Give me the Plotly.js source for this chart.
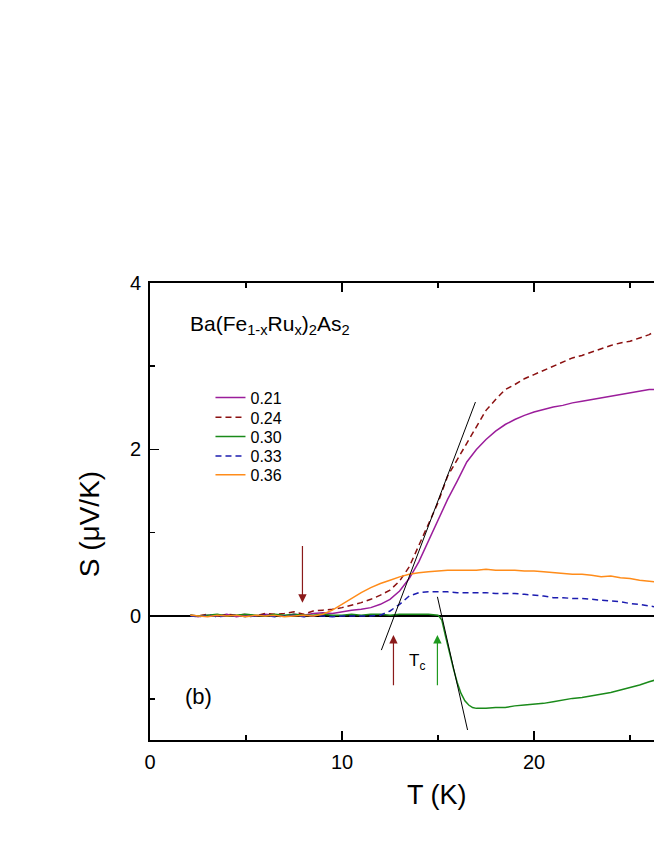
<!DOCTYPE html>
<html>
<head>
<meta charset="utf-8">
<script src="https://cdn.plot.ly/plotly-3.0.1.min.js"></script>
<style>
  html, body { margin: 0; padding: 0; background: #fff; overflow: hidden; }
</style>
</head>
<body>
<div id="chart"></div>
<script>
// temperature grid (K)
var tGrid = [2.1, 2.5, 3, 3.5, 4, 4.5, 5, 5.5, 6, 6.5, 7, 7.5, 8, 8.5, 9, 9.5, 10, 10.5, 11, 11.5,
    12, 12.5, 13, 13.5, 14, 14.5, 15, 15.5, 16, 16.5, 17, 17.5, 18, 18.5, 19, 19.5, 20, 20.5, 21, 21.5,
    22, 22.5, 23, 23.5, 24, 24.5, 25, 25.5, 26, 26.3];

// S (uV/K) for each Ru content
var s021 = [0.01, -0.01, 0.01, 0.0, 0.02, -0.01, 0.01, 0.0, 0.02, 0.01, 0.0, 0.02, 0.01, 0.03, 0.04, 0.03, 0.05, 0.07, 0.08, 0.1,
    0.14, 0.2, 0.3, 0.45, 0.65, 0.9, 1.15, 1.4, 1.62, 1.85, 2.0, 2.12, 2.22, 2.3, 2.36, 2.41, 2.45, 2.48, 2.51, 2.53,
    2.56, 2.58, 2.6, 2.62, 2.64, 2.66, 2.68, 2.7, 2.72, 2.72];
var s024 = [0.01, 0.0, 0.02, -0.01, 0.02, 0.01, 0.02, 0.0, 0.03, 0.02, 0.03, 0.05, 0.02, 0.06, 0.07, 0.08, 0.1, 0.13, 0.16, 0.2,
    0.25, 0.31, 0.42, 0.59, 0.85, 1.1, 1.36, 1.68, 1.88, 2.07, 2.28, 2.47, 2.6, 2.72, 2.78, 2.85, 2.9, 2.95, 3.0, 3.05,
    3.1, 3.13, 3.17, 3.21, 3.25, 3.28, 3.3, 3.34, 3.38, 3.42];
var s033 = [0.0, -0.01, 0.01, -0.01, 0.0, 0.01, -0.01, 0.0, 0.01, -0.01, 0.0, 0.01, -0.01, 0.0, 0.0, -0.01, 0.0, 0.0, 0.0, 0.0,
    0.01, 0.06, 0.14, 0.24, 0.28, 0.29, 0.29, 0.29, 0.28, 0.28, 0.28, 0.28, 0.27, 0.27, 0.27, 0.26, 0.25, 0.24, 0.22, 0.22,
    0.21, 0.21, 0.2, 0.19, 0.18, 0.17, 0.15, 0.14, 0.12, 0.11];
var s036 = [0.01, 0.0, -0.01, 0.01, 0.0, 0.01, -0.01, 0.01, 0.0, 0.01, -0.01, 0.0, 0.01, 0.0, 0.02, 0.07, 0.14, 0.22, 0.28, 0.34,
    0.39, 0.43, 0.47, 0.5, 0.52, 0.53, 0.54, 0.55, 0.55, 0.55, 0.55, 0.56, 0.55, 0.55, 0.55, 0.54, 0.54, 0.53, 0.52, 0.51,
    0.5, 0.5, 0.49, 0.47, 0.48, 0.46, 0.45, 0.43, 0.42, 0.41];

// x = 0.30 has a sharper step, finer grid there
var t030 = [2.1, 2.5, 3, 3.5, 4, 4.5, 5, 5.5, 6, 6.5, 7, 7.5, 8, 8.5, 9, 9.5, 10, 10.5, 11, 11.5,
    12, 12.5, 13, 13.5, 14, 14.5, 15, 15.2, 15.4, 15.6, 15.8, 16, 16.2, 16.4, 16.6, 16.8, 17, 17.5, 18, 18.5,
    19, 19.5, 20, 20.5, 21, 21.5, 22, 22.5, 23, 23.5, 24, 24.5, 25, 25.5, 26, 26.3];
var s030 = [0.01, 0.0, 0.01, 0.02, 0.0, 0.01, 0.02, 0.01, 0.0, 0.02, 0.01, 0.02, 0.01, 0.01, 0.02, 0.01, 0.01, 0.02, 0.01, 0.02,
    0.02, 0.01, 0.02, 0.02, 0.02, 0.02, 0.01, -0.05, -0.25, -0.45, -0.63, -0.8, -0.93, -1.02, -1.07, -1.1, -1.11, -1.11, -1.1, -1.1,
    -1.08, -1.07, -1.06, -1.05, -1.03, -1.01, -0.99, -0.98, -0.96, -0.94, -0.92, -0.89, -0.86, -0.83, -0.79, -0.77];

// tangent guides
var tan1T = [12.05, 16.95];
var tan1S = [-0.41, 2.57];
var tan2T = [14.97, 16.54];
var tan2S = [0.23, -1.37];

// Tc arrows
var arrowT = [7.94, 12.68, 14.97];
var arrowTail = [0.86, -0.85, -0.85];
var arrowTip = [0.16, -0.23, -0.23];
var arrowColor = ["#8b1a1a", "#8b1a1a", "#1f9a1f"];

var font = "Arial, 'Liberation Sans', sans-serif";

var series = [
    { name: "0.21", t: tGrid, s: s021, color: "#9b1d9b", dash: "solid" },
    { name: "0.24", t: tGrid, s: s024, color: "#8b1010", dash: "6px,4px" },
    { name: "0.30", t: t030, s: s030, color: "#1a8a1a", dash: "solid" },
    { name: "0.33", t: tGrid, s: s033, color: "#1c1cb0", dash: "6px,4px" },
    { name: "0.36", t: tGrid, s: s036, color: "#ff8c1a", dash: "solid" }
];

// one small legend per entry so the rows sit as tight as the original
var legendRows = [0.749, 0.706, 0.664, 0.621, 0.580];

var data = series.map(function (d, i) {
    return {
        x: d.t, y: d.s, name: d.name, type: "scatter", mode: "lines",
        legend: i == 0 ? "legend" : "legend" + (i + 1),
        line: { color: d.color, width: 1.5, dash: d.dash }
    };
});

[[tan1T, tan1S], [tan2T, tan2S]].forEach(function (p) {
    data.push({
        x: p[0], y: p[1], type: "scatter", mode: "lines", showlegend: false,
        line: { color: "#000", width: 1 }, hoverinfo: "skip"
    });
});

var annotations = [
    { text: "Ba(Fe<sub>1-x</sub>Ru<sub>x</sub>)<sub>2</sub>As<sub>2</sub>", x: 2.0, y: 3.5, xref: "x", yref: "y",
      xanchor: "left", yanchor: "middle", showarrow: false, font: { size: 21 } },
    { text: "(b)", x: 2.5, y: -0.97, xref: "x", yref: "y", showarrow: false, font: { size: 22 } },
    { text: "T<sub>c</sub>", x: 13.9, y: -0.55, xref: "x", yref: "y", showarrow: false, font: { size: 17 } },
    { text: "T (K)", x: 0.57, y: -0.158, xref: "paper", yref: "paper", showarrow: false, font: { size: 27 } },
    { text: "S (\u03bcV/K)", x: -0.155, y: 0.473, xref: "paper", yref: "paper", showarrow: false,
      textangle: -90, font: { size: 28 } }
];

arrowT.forEach(function (t, i) {
    annotations.push({
        x: t, y: arrowTip[i], ax: t, ay: arrowTail[i], xref: "x", yref: "y", axref: "x", ayref: "y",
        text: "", showarrow: true, arrowhead: 2, arrowsize: 1.4, arrowwidth: 1.2,
        arrowcolor: arrowColor[i], standoff: 0
    });
});

var layout = {
    width: 654,
    height: 846,
    margin: { l: 150, r: 0, t: 283, b: 106 },
    paper_bgcolor: "#fff",
    plot_bgcolor: "#fff",
    font: { family: font, color: "#000" },
    showlegend: true,
    xaxis: {
        range: [0, 26.25],
        showgrid: false, zeroline: false,
        showline: true, linewidth: 2, linecolor: "#000", mirror: "allticks",
        ticks: "inside", ticklen: 9, tickwidth: 1.5, tickcolor: "#000",
        dtick: 10, tick0: 0,
        minor: { dtick: 5, ticks: "inside", ticklen: 5, tickwidth: 1.5, tickcolor: "#000", showgrid: false },
        tickfont: { size: 20 }, ticklabelstandoff: 3
    },
    yaxis: {
        range: [-1.49, 4.0],
        showgrid: false,
        zeroline: true, zerolinecolor: "#000", zerolinewidth: 2,
        showline: true, linewidth: 2, linecolor: "#000",
        ticks: "inside", ticklen: 9, tickwidth: 1.5, tickcolor: "#000",
        dtick: 2, tick0: 0,
        minor: { dtick: 1, ticks: "inside", ticklen: 5, tickwidth: 1.5, tickcolor: "#000", showgrid: false },
        tickfont: { size: 20 }, ticklabelstandoff: 3
    },
    annotations: annotations
};

legendRows.forEach(function (y, i) {
    layout[i == 0 ? "legend" : "legend" + (i + 1)] = {
        x: 0.12, y: y, xanchor: "left", yanchor: "middle",
        bgcolor: "rgba(0,0,0,0)", font: { size: 16 }
    };
});

Plotly.newPlot("chart", data, layout, { displayModeBar: false, staticPlot: true });
</script>
</body>
</html>
